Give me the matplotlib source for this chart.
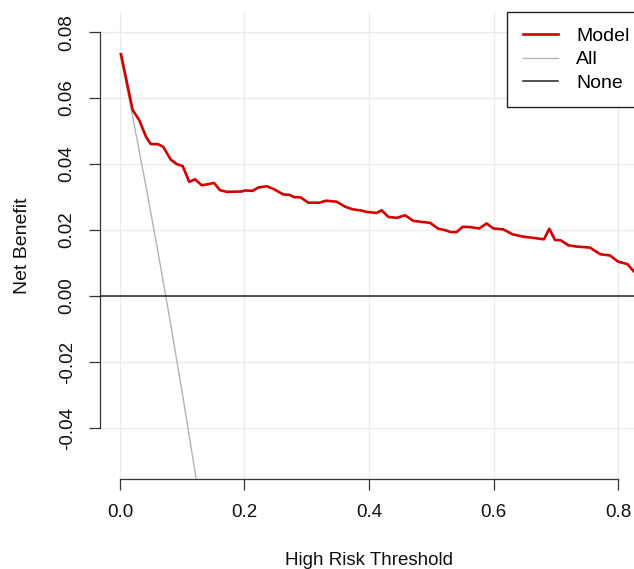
import matplotlib
matplotlib.use("Agg")
import matplotlib.pyplot as plt

plt.rcParams['font.family'] = ['Liberation Sans', 'DejaVu Sans']

# Model net benefit curve (threshold, net benefit)
model_thr = [0.0016, 0.0204, 0.031, 0.0418, 0.0493, 0.0616, 0.0696, 0.0814, 0.091, 0.1007,
             0.1113, 0.1205, 0.1312, 0.1418, 0.151, 0.1606, 0.1713, 0.1767, 0.1955, 0.2008,
             0.2131, 0.2222, 0.2356, 0.2463, 0.2624, 0.272, 0.2795, 0.2903, 0.3025, 0.3202,
             0.3309, 0.348, 0.3614, 0.3738, 0.3882, 0.3963, 0.4123, 0.4204, 0.431, 0.4445,
             0.4578, 0.4712, 0.483, 0.498, 0.5113, 0.522, 0.5312, 0.5408, 0.5505, 0.5622,
             0.5771, 0.589, 0.5997, 0.6104, 0.6158, 0.6308, 0.6479, 0.6693, 0.681, 0.6896,
             0.6988, 0.7079, 0.7202, 0.7336, 0.755, 0.771, 0.787, 0.8005, 0.815, 0.8257]
model_nb = [0.0733, 0.0564, 0.0533, 0.0483, 0.0461, 0.0460, 0.0452, 0.0414, 0.0400, 0.0394,
            0.0346, 0.0354, 0.0336, 0.0339, 0.0343, 0.0321, 0.0316, 0.0316, 0.0317, 0.0320,
            0.0319, 0.0329, 0.0333, 0.0325, 0.0308, 0.0307, 0.0300, 0.0299, 0.0283, 0.0283,
            0.0289, 0.0286, 0.0271, 0.0263, 0.0259, 0.0255, 0.0252, 0.0260, 0.0240, 0.0237,
            0.0245, 0.0228, 0.0225, 0.0222, 0.0204, 0.0200, 0.0194, 0.0194, 0.0210, 0.0209,
            0.0205, 0.0220, 0.0205, 0.0203, 0.0202, 0.0187, 0.0180, 0.0175, 0.0172, 0.0204,
            0.0170, 0.0169, 0.0154, 0.0150, 0.0147, 0.0127, 0.0123, 0.0104, 0.0097, 0.0074]

# Treat-all curve
all_thr = [0.00, 0.02, 0.04, 0.06, 0.08, 0.10, 0.12, 0.14]
all_nb = [0.0736, 0.0547, 0.0350, 0.0145, -0.0070, -0.0293, -0.0527, -0.0770]

# Treat-none
none_nb = 0.0

x_ticks = [0.0, 0.2, 0.4, 0.6, 0.8]
y_ticks = [-0.04, -0.02, 0.00, 0.02, 0.04, 0.06, 0.08]
x_label = "High Risk Threshold"
y_label = "Net Benefit"

W, H = 634, 569
fig = plt.figure(figsize=(W / 100, H / 100), dpi=100)
ax = fig.add_axes([100 / W, 90 / H, 538 / W, 467 / H])

ax.set_xlim(-0.0321, 0.8321)
ax.set_ylim(-0.05545, 0.0861)

ax.set_xticks(x_ticks)
ax.set_xticklabels([f"{v:.1f}" for v in x_ticks])
ax.set_yticks(y_ticks)
ax.set_yticklabels([f"{v:.2f}" for v in y_ticks], rotation=90, va='center')

ax.grid(True, color='#ebebeb', linewidth=1.0)
ax.set_axisbelow(True)

ax.plot(all_thr, all_nb, color='#b4b4b4', linewidth=1.0, label='All', zorder=3)
ax.axhline(none_nb, color='#222222', linewidth=1.1, label='None', zorder=3)
ax.plot(model_thr, model_nb, color='#d40000', linewidth=1.9, label='Model', zorder=4)

for s in ['top', 'right']:
    ax.spines[s].set_visible(False)
ax.spines['left'].set_bounds(-0.04, 0.08)
ax.spines['bottom'].set_bounds(0.0, 0.8)
for s in ['left', 'bottom']:
    ax.spines[s].set_color('#333333')
    ax.spines[s].set_linewidth(0.9)

ax.tick_params(axis='both', length=8, width=0.9, color='#333333', labelsize=13.5,
               labelcolor='#111111')
ax.tick_params(axis='x', pad=10)
ax.tick_params(axis='y', pad=9.5)

ax.set_xlabel(x_label, fontsize=13.5, color='#111111', labelpad=22)
ax.set_ylabel(y_label, fontsize=14, color='#111111', labelpad=20)

handles, labels = ax.get_legend_handles_labels()
order = [labels.index('Model'), labels.index('All'), labels.index('None')]
leg = ax.legend([handles[i] for i in order], [labels[i] for i in order],
                loc='upper right', bbox_to_anchor=(1.013, 1.0), borderaxespad=0.0,
                fontsize=14, fancybox=False, framealpha=1.0, edgecolor='#222222',
                handlelength=1.8, handletextpad=0.93, labelspacing=0.29, borderpad=0.8)
leg.get_frame().set_linewidth(1.0)

fig.savefig("out.png", dpi=100)
